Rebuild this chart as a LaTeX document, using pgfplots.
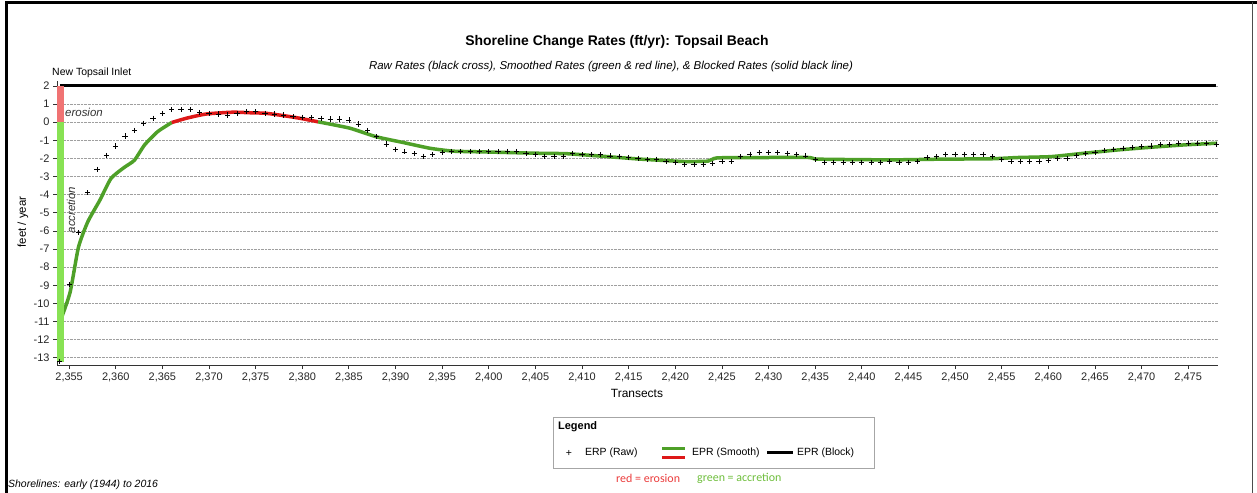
\documentclass[border=0pt]{standalone}
\usepackage{fontspec}
\setmainfont{Liberation Sans}
\newfontfamily\calibri{Carlito}
\usepackage{pgfplots}
\pgfplotsset{compat=1.18}
\definecolor{smoothgreen}{RGB}{78,160,40}
\definecolor{smoothred}{RGB}{222,24,24}
\definecolor{barred}{RGB}{240,115,115}
\definecolor{bargreen}{RGB}{136,226,84}
\definecolor{noteRed}{RGB}{235,60,60}
\definecolor{noteGreen}{RGB}{110,190,60}

\begin{document}
\begin{tikzpicture}
\useasboundingbox (0,0) rectangle (1257bp,-493bp);
% outer frame
\draw[black, line width=3bp] (6bp,-493bp) -- (6bp,-2bp) -- (1257bp,-2bp);
\draw[black!70, line width=0.8bp] (1252bp,-2bp) -- (1252bp,-493bp);

\begin{axis}[
  at={(57bp,-365bp)}, anchor=south west,
  scale only axis, width=1161bp, height=284.5bp,
  xmin=2353.7, xmax=2478.2, ymin=-13.4, ymax=2.3,
  axis x line*=bottom, axis y line*=left,
  axis line style={-, line width=1pt, black!80},
  x axis line style={-}, y axis line style={-},
  tick align=outside, major tick length=4bp,
  every tick/.style={black!80, line width=0.8pt},
  xtick={2355,2360,...,2475}, ytick={-13,...,2},
  ymajorgrids,
  grid style={densely dotted, gray!75, line width=0.6pt},
  tick label style={font=\fontsize{11}{13}\selectfont, text=black!85},
  /pgf/number format/assume math mode=true,
  /pgf/number format/1000 sep={,},
  clip=false,
]

% blocked rate
\addplot[black, line width=3bp] coordinates {(2354,2) (2478,2)};

% raw rates
\addplot[only marks, mark=+, mark size=2.6bp, black, mark options={line width=0.75pt}] coordinates {
(2354,-13.2) (2355,-8.95) (2356,-6.1) (2357,-3.9) (2358,-2.6) (2359,-1.84)
(2360,-1.31) (2361,-0.76) (2362,-0.46) (2363,-0.06) (2364,0.22) (2365,0.49)
(2366,0.68) (2367,0.68) (2368,0.68) (2369,0.53) (2370,0.49) (2371,0.45)
(2372,0.4) (2373,0.5) (2374,0.58) (2375,0.58) (2376,0.49) (2377,0.45)
(2378,0.4) (2379,0.31) (2380,0.28) (2381,0.25) (2382,0.22) (2383,0.18)
(2384,0.18) (2385,0.12) (2386,-0.1) (2387,-0.46) (2388,-0.8) (2389,-1.2)
(2390,-1.49) (2391,-1.64) (2392,-1.74) (2393,-1.88) (2394,-1.8) (2395,-1.68)
(2396,-1.62) (2397,-1.62) (2398,-1.62) (2399,-1.62) (2400,-1.62) (2401,-1.62)
(2402,-1.62) (2403,-1.62) (2404,-1.71) (2405,-1.8) (2406,-1.9) (2407,-1.9)
(2408,-1.9) (2409,-1.71) (2410,-1.8) (2411,-1.8) (2412,-1.8) (2413,-1.86)
(2414,-1.9) (2415,-1.95) (2416,-1.99) (2417,-2.08) (2418,-2.04) (2419,-2.17)
(2420,-2.23) (2421,-2.32) (2422,-2.32) (2423,-2.32) (2424,-2.26) (2425,-2.17)
(2426,-2.17) (2427,-1.9) (2428,-1.77) (2429,-1.68) (2430,-1.68) (2431,-1.68)
(2432,-1.71) (2433,-1.77) (2434,-1.86) (2435,-2.08) (2436,-2.21) (2437,-2.21)
(2438,-2.21) (2439,-2.21) (2440,-2.23) (2441,-2.23) (2442,-2.23) (2443,-2.17)
(2444,-2.21) (2445,-2.21) (2446,-2.17) (2447,-1.95) (2448,-1.9) (2449,-1.77)
(2450,-1.77) (2451,-1.77) (2452,-1.77) (2453,-1.77) (2454,-1.9) (2455,-2.08)
(2456,-2.17) (2457,-2.17) (2458,-2.17) (2459,-2.17) (2460,-2.12) (2461,-1.99)
(2462,-1.99) (2463,-1.84) (2464,-1.71) (2465,-1.68) (2466,-1.57) (2467,-1.5)
(2468,-1.44) (2469,-1.4) (2470,-1.35) (2471,-1.31) (2472,-1.25) (2473,-1.22)
(2474,-1.16) (2475,-1.16) (2476,-1.16) (2477,-1.16) (2478,-1.25)
};

% smoothed rates: accretion (green) and erosion (red)
\addplot[smoothgreen, line width=3.5bp, smooth, tension=0.35] coordinates {
(2354.0,-11.05) (2355.1,-9.4) (2356.0,-6.9) (2357.0,-5.5) (2358.3,-4.3)
(2359.5,-3.1) (2360.9,-2.5) (2362.0,-2.1) (2363.1,-1.25) (2364.5,-0.52)
(2366.0,-0.02)
};
\addplot[smoothred, line width=3.5bp, smooth, tension=0.4] coordinates {
(2366.0,-0.02) (2367.6,0.22) (2369.7,0.45) (2372.5,0.55) (2374.4,0.52)
(2376.1,0.49) (2378.0,0.36) (2379.7,0.22) (2381.7,0.02)
};
\addplot[smoothgreen, line width=3.5bp, smooth, tension=0.3] coordinates {
(2381.7,0.02) (2385.1,-0.33) (2387.9,-0.8) (2390.8,-1.12) (2393.7,-1.44)
(2396.2,-1.6) (2399.4,-1.64) (2404.8,-1.71) (2408.4,-1.74) (2412.7,-1.9)
(2416.3,-2.04) (2420.9,-2.17) (2423.5,-2.15) (2424.5,-1.97) (2429.5,-1.95)
(2434.4,-1.95) (2435.3,-2.04) (2443.1,-2.08) (2448.5,-2.04) (2453.9,-2.02)
(2456.7,-1.95) (2460.3,-1.9) (2463.9,-1.71) (2467.5,-1.53) (2471.1,-1.38)
(2474.7,-1.25) (2478.1,-1.16)
};

% inlet bar
\fill[barred] (axis cs:2353.72,0) rectangle (axis cs:2354.42,2);
\fill[bargreen] (axis cs:2353.72,-13.25) rectangle (axis cs:2354.42,0);

\end{axis}

% texts
\node[anchor=center, font=\fontsize{14}{16}\selectfont\bfseries] at (617bp,-42bp)
  {Shoreline Change Rates (ft/yr): Topsail Beach};
\node[anchor=center, font=\fontsize{11.5}{14}\selectfont\itshape] at (611bp,-67bp)
  {Raw Rates (black cross), Smoothed Rates (green \& red line), \& Blocked Rates (solid black line)};
\node[anchor=west, font=\fontsize{10.5}{12}\selectfont, inner sep=0pt] at (52bp,-73bp) {New Topsail Inlet};
\node[anchor=west, font=\fontsize{11.5}{13}\selectfont\itshape, inner sep=0pt, text=black!80] at (65bp,-112bp) {erosion};
\node[rotate=90, anchor=center, font=\fontsize{11.5}{13}\selectfont\itshape, inner sep=0pt, text=black!80] at (71bp,-210bp) {accretion};
\node[rotate=90, anchor=center, font=\fontsize{11.5}{13}\selectfont, inner sep=0pt] at (23bp,-222bp) {feet / year};
\node[anchor=center, font=\fontsize{12}{14}\selectfont, inner sep=0pt] at (637bp,-393bp) {Transects};

% legend
\draw[gray!70, line width=1bp] (553bp,-417bp) rectangle (874bp,-468bp);
\node[anchor=west, font=\fontsize{11}{13}\selectfont\bfseries, inner sep=0pt] at (558bp,-427bp) {Legend};
\node[anchor=center, font=\fontsize{10.5}{13}\selectfont, inner sep=0pt] at (569bp,-453bp) {+};
\node[anchor=west, font=\fontsize{10.5}{13}\selectfont, inner sep=0pt] at (585bp,-453bp) {ERP (Raw)};
\draw[smoothgreen, line width=3bp] (662bp,-448bp) -- (685bp,-448bp);
\draw[smoothred, line width=3bp] (662bp,-457bp) -- (685bp,-457bp);
\node[anchor=west, font=\fontsize{10.5}{13}\selectfont, inner sep=0pt] at (692bp,-453bp) {EPR (Smooth)};
\draw[black, line width=3bp] (767bp,-452bp) -- (793bp,-452bp);
\node[anchor=west, font=\fontsize{10.5}{13}\selectfont, inner sep=0pt] at (797bp,-453bp) {EPR (Block)};
\node[anchor=west, font=\calibri\fontsize{12}{14}\selectfont, inner sep=0pt, text=noteRed] at (616bp,-478bp) {red = erosion};
\node[anchor=west, font=\calibri\fontsize{12}{14}\selectfont, inner sep=0pt, text=noteGreen] at (697bp,-478bp) {green = accretion};

\node[anchor=west, font=\fontsize{10.5}{12}\selectfont\itshape, inner sep=0pt] at (8bp,-485bp) {Shorelines: early (1944) to 2016};
\end{tikzpicture}
\end{document}
